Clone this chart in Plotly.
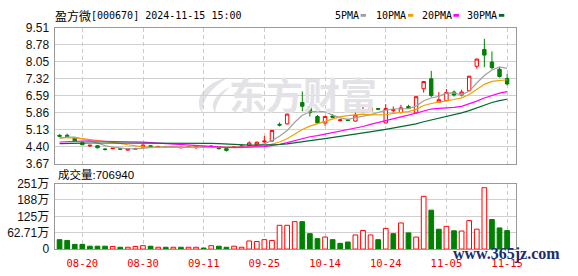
import plotly.graph_objects as go
import pandas as pd

W, H = 578, 276

# ---------------- data ----------------
dates = ["08-15","08-16","08-19","08-20","08-21","08-22","08-23","08-26","08-27","08-28",
         "08-29","08-30","09-02","09-03","09-04","09-05","09-06","09-09","09-10","09-11",
         "09-12","09-13","09-18","09-19","09-20","09-23","09-24","09-25","09-26","09-27",
         "09-30","10-08","10-09","10-10","10-11","10-14","10-15","10-16","10-17","10-18",
         "10-21","10-22","10-23","10-24","10-25","10-28","10-29","10-30","10-31","11-01",
         "11-04","11-05","11-06","11-07","11-08","11-11","11-12","11-13","11-14","11-15"]

opens = [4.89,4.89,4.78,4.57,4.43,4.44,4.30,4.31,4.31,4.25,
         4.29,4.38,4.44,4.38,4.41,4.37,4.35,4.37,4.37,4.41,
         4.38,4.37,4.32,4.37,4.38,4.45,4.49,4.60,4.64,5.36,
         5.38,6.36,6.30,6.12,5.70,5.42,5.72,5.52,5.56,5.50,
         5.93,5.92,6.04,5.42,5.95,5.87,6.13,5.85,6.89,7.32,
         6.31,6.38,6.75,6.62,6.81,7.86,8.58,8.04,7.73,7.33]
highs = [4.93,4.96,4.80,4.58,4.47,4.46,4.33,4.34,4.32,4.32,
         4.35,4.50,4.46,4.43,4.42,4.41,4.39,4.40,4.42,4.42,
         4.44,4.38,4.33,4.42,4.46,4.63,4.62,4.86,5.12,5.44,
         5.82,6.38,6.78,6.20,5.76,5.72,5.80,5.58,5.60,5.87,
         6.12,6.19,6.06,6.23,6.13,6.20,6.20,6.57,7.20,7.66,
         6.75,6.88,6.82,6.85,7.45,8.18,9.04,8.50,7.82,7.53]
lows = [4.82,4.80,4.63,4.47,4.39,4.33,4.23,4.30,4.27,4.23,
        4.26,4.37,4.38,4.34,4.36,4.35,4.33,4.35,4.30,4.37,
        4.36,4.29,4.19,4.35,4.36,4.44,4.47,4.58,4.62,5.27,
        5.36,6.00,5.92,5.70,5.38,5.30,5.62,5.48,5.50,5.48,
        5.88,5.90,5.97,5.40,5.87,5.82,6.03,5.82,6.72,6.52,
        6.29,6.36,6.56,6.56,6.78,7.76,7.82,7.73,7.37,7.04]
closes = [4.85,4.84,4.65,4.48,4.46,4.35,4.28,4.33,4.29,4.30,
          4.32,4.47,4.40,4.41,4.38,4.40,4.37,4.39,4.40,4.39,
          4.42,4.31,4.24,4.39,4.43,4.56,4.59,4.64,5.10,5.33,
          5.80,6.38,6.14,5.86,5.42,5.70,5.66,5.55,5.53,5.76,
          5.98,6.07,6.01,6.04,6.00,6.07,6.05,6.55,7.20,6.60,
          6.42,6.73,6.62,6.75,7.43,8.17,8.34,7.80,7.42,7.10]
# closes of the 29 sessions before the window (needed for the moving averages)
prior_closes = [4.35,4.38,4.40,4.36,4.33,4.37,4.40,4.42,4.39,4.40,
                4.38,4.36,4.40,4.44,4.42,4.39,4.41,4.43,4.45,4.42,
                4.72,4.85,4.88,4.83,4.82,4.60,4.65,4.78,4.92]
volumes_wan = [36,33,18,18,11,11,11,10,7,7,
               10,13,11,7,7,7,7,7,7,4,
               13,11,7,11,7,31,29,36,33,91,
               91,105,105,59,40,46,36,22,27,54,
               71,54,36,79,59,100,62,46,202,149,
               76,87,70,69,109,76,235,113,81,70.694]

price_ticks = [3.67, 4.40, 5.13, 5.86, 6.59, 7.32, 8.05, 8.78, 9.51]
vol_ticks = [0, 62.71, 125.42, 188.13, 250.84]
vol_tick_labels = ["0", "62.71万", "125万", "188万", "251万"]
date_tick_idx = [3, 11, 19, 27, 35, 43, 51, 59]
ma_windows = [5, 10, 20, 30]
ma_names = ["5PMA", "10PMA", "20PMA", "30PMA"]
ma_colors = ["#a0a0a0", "#f0a000", "#ff00ff", "#006a30"]
title_name = "盈方微"
title_rest = "[000670] 2024-11-15 15:00"
vol_caption = "成交量:706940"

# ---------------- helpers ----------------
def fx(px):
    return px / W

def fy(py):
    return 1 - py / H

idx = list(range(len(dates)))
RED = "#ff0000"
GREEN = "#008000"

all_close = pd.Series(prior_closes + closes)
prev_close = [prior_closes[-1]] + closes[:-1]
vol_up = [c > p for c, p in zip(closes, prev_close)]

fig = go.Figure()

fig.add_trace(go.Candlestick(
    x=idx, open=opens, high=highs, low=lows, close=closes,
    increasing=dict(line=dict(color=RED, width=1), fillcolor="#ffffff"),
    decreasing=dict(line=dict(color=GREEN, width=1), fillcolor=GREEN),
    whiskerwidth=0, hoverinfo="skip", xaxis="x", yaxis="y"))

for w, name, col in zip(ma_windows, ma_names, ma_colors):
    ma = all_close.rolling(w).mean().iloc[len(prior_closes):].tolist()
    fig.add_trace(go.Scatter(x=idx, y=ma, mode="lines", name=name,
                             line=dict(color=col, width=1.2),
                             hoverinfo="skip", xaxis="x", yaxis="y"))

fig.add_trace(go.Bar(
    x=idx, y=volumes_wan, width=0.62,
    marker=dict(color=["#ffffff" if u else GREEN for u in vol_up],
                line=dict(color=[RED if u else GREEN for u in vol_up], width=1)),
    hoverinfo="skip", xaxis="x2", yaxis="y2"))

xdom = [fx(55.3), fx(522)]
xrange_ = [-0.65, 60.13]
grid_dash = "4px,3px"
tickfont = dict(family="Liberation Sans, Noto Sans CJK SC", size=12, color="#111111")

common_x = dict(domain=xdom, range=xrange_, tickvals=date_tick_idx,
                showgrid=True, gridcolor="#cccccc", gridwidth=1, griddash=grid_dash,
                showline=True, mirror=True, linecolor="#999999", linewidth=1,
                zeroline=False, ticks="", fixedrange=True)

fig.update_layout(
    width=W, height=H, margin=dict(l=0, r=0, t=0, b=0),
    paper_bgcolor="#ffffff", plot_bgcolor="#ffffff",
    showlegend=False, boxgap=0.36, bargap=0,
    xaxis=dict(**common_x, anchor="y", showticklabels=False,
               rangeslider=dict(visible=False)),
    xaxis2=dict(**common_x, anchor="y2", matches="x", showticklabels=True,
                ticktext=[dates[i] for i in date_tick_idx],
                tickfont=dict(family="DejaVu Sans Mono", size=10.5, color="#ee0000"),
                ticklabelstandoff=4),
    yaxis=dict(domain=[fy(165), fy(22)], range=[price_ticks[0], price_ticks[-1]],
               tickvals=price_ticks, ticktext=["%.2f" % v for v in price_ticks],
               showgrid=True, gridcolor="#d0d0d0", gridwidth=1,
               showline=True, mirror=True, linecolor="#999999", linewidth=1,
               zeroline=False, ticks="", tickfont=tickfont, fixedrange=True,
               ticklabelstandoff=2),
    yaxis2=dict(domain=[fy(255), fy(186)], range=[vol_ticks[0], vol_ticks[-1]],
                tickvals=vol_ticks, ticktext=vol_tick_labels,
                showgrid=True, gridcolor="#d0d0d0", gridwidth=1,
                showline=True, mirror=True, linecolor="#999999", linewidth=1,
                zeroline=False, ticks="", tickfont=tickfont, fixedrange=True,
                ticklabelstandoff=2),
)

annotations = []
shapes = []

# watermark
annotations.append(dict(x=fx(307), y=fy(92), xref="paper", yref="paper",
                        text="<b>东方财富</b>", showarrow=False,
                        font=dict(family="Noto Sans CJK SC", size=37, color="#e3e3e7"),
                        xanchor="center", yanchor="middle"))

def path_px(points_cmds):
    return points_cmds

def P(x, y):
    return "%.5f,%.5f" % (fx(x), fy(y))

shapes.append(dict(type="path", xref="paper", yref="paper", layer="below",
                   path="M %s C %s %s %s C %s %s %s Z" % (
                       P(231, 74), P(206, 80), P(195, 98), P(205, 112),
                       P(204, 98), P(213, 86), P(231, 74)),
                   fillcolor="#e3e3e7", line=dict(width=0)))
shapes.append(dict(type="path", xref="paper", yref="paper", layer="below",
                   path="M %s C %s %s %s C %s %s %s Z" % (
                       P(233, 84), P(217, 92), P(212, 103), P(218, 112),
                       P(218, 102), P(223, 94), P(233, 84)),
                   fillcolor="#e3e3e7", line=dict(width=0)))

# title
annotations.append(dict(x=fx(54), y=fy(8.5), xref="paper", yref="paper",
                        text=title_name, showarrow=False,
                        font=dict(family="Noto Sans CJK SC", size=12, color="#000000"),
                        xanchor="left", yanchor="middle"))
annotations.append(dict(x=fx(90.5), y=fy(8.5), xref="paper", yref="paper",
                        text=title_rest, showarrow=False,
                        font=dict(family="DejaVu Sans Mono", size=10, color="#000000"),
                        xanchor="left", yanchor="middle"))

# legend
leg_text_x = [338, 380, 425.7, 471.7]
leg_box_x = [365, 413, 459, 505]
for name, col, tx, bx in zip(ma_names, ma_colors, leg_text_x, leg_box_x):
    annotations.append(dict(x=fx(tx - 1), y=fy(8.5), xref="paper", yref="paper",
                            text=name, showarrow=False,
                            font=dict(family="DejaVu Sans Mono", size=10, color="#000000"),
                            xanchor="left", yanchor="middle"))
    shapes.append(dict(type="rect", xref="paper", yref="paper",
                       x0=fx(bx), x1=fx(bx + 5.5), y0=fy(10.3), y1=fy(7.3),
                       fillcolor=col, line=dict(width=0)))

# volume caption
annotations.append(dict(x=fx(56.5), y=fy(176.5), xref="paper", yref="paper",
                        text=vol_caption, showarrow=False,
                        font=dict(family="Liberation Sans, Noto Sans CJK SC", size=11.5,
                                  color="#000000"),
                        xanchor="left", yanchor="middle"))

# site watermark
annotations.append(dict(x=fx(513), y=fy(260.5), xref="paper", yref="paper",
                        text="<b>www.365jz.com</b>", showarrow=False,
                        font=dict(family="Liberation Serif", size=16, color="#1d2c6b"),
                        xanchor="center", yanchor="middle"))

fig.update_layout(annotations=annotations, shapes=shapes)

fig.write_html("out.html", config={"displayModeBar": False, "staticPlot": True})
